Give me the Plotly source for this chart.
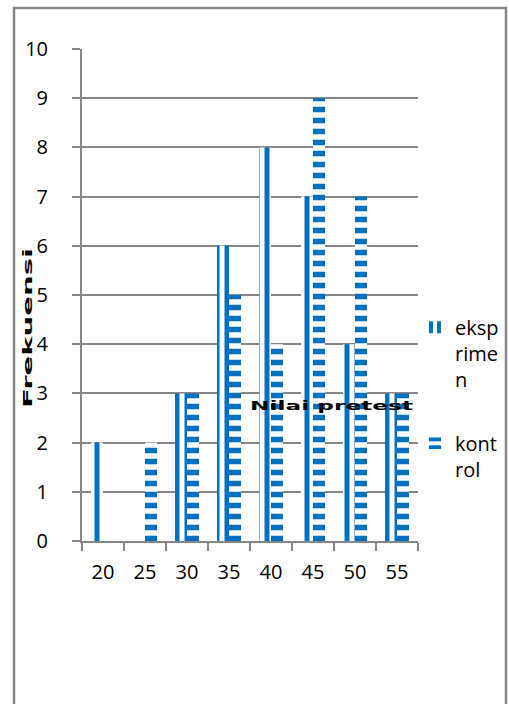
import plotly.graph_objects as go

categories = ["20", "25", "30", "35", "40", "45", "50", "55"]
eksprimen = [2, 0, 3, 6, 8, 7, 4, 3]
kontrol = [0, 2, 3, 5, 4, 9, 7, 3]
y_ticks = list(range(0, 11))

BLUE = "#0070C0"
GRID = "#878787"
FONT = "Open Sans"

fig = go.Figure()
fig.add_trace(go.Bar(
    x=categories, y=eksprimen, name="eksp<br>rime<br>n",
    legendgroup="a",
    marker=dict(color=BLUE, line=dict(width=0),
                pattern=dict(shape="|", fgcolor=BLUE, bgcolor="white",
                             fgopacity=1, size=10, solidity=0.5)),
))
fig.add_trace(go.Bar(
    x=categories, y=kontrol, name="kont<br>rol",
    legendgroup="b",
    marker=dict(color=BLUE, line=dict(width=0),
                pattern=dict(shape="-", fgcolor=BLUE, bgcolor="white",
                             fgopacity=1, size=11, solidity=0.5)),
))

fig.update_layout(
    width=509, height=704,
    margin=dict(l=82, r=91, t=49, b=163, pad=0, autoexpand=False),
    paper_bgcolor="white", plot_bgcolor="white",
    barmode="group", bargap=0.43, bargroupgap=0,
    font=dict(family=FONT, size=20, color="black"),
    showlegend=True,
    legend=dict(x=0.991, y=0.474, xanchor="left", yanchor="top",
                valign="top", traceorder="grouped", tracegroupgap=35,
                itemwidth=30, font=dict(size=20, family=FONT),
                bgcolor="rgba(0,0,0,0)"),
    xaxis=dict(
        type="category", showgrid=False, showline=True, linecolor=GRID,
        linewidth=2, ticks="outside", tickson="boundaries", ticklen=8,
        tickcolor=GRID, tickwidth=2, ticklabelstandoff=12,
        tickfont=dict(size=20, family=FONT), automargin=False,
    ),
    yaxis=dict(
        range=[0, 10], tickvals=y_ticks, showgrid=True, gridcolor=GRID,
        gridwidth=2, showline=True, linecolor=GRID, linewidth=2,
        ticks="outside", ticklen=8, tickcolor=GRID, tickwidth=2,
        ticklabelstandoff=20, zeroline=False, automargin=False,
        tickfont=dict(size=20, family=FONT),
    ),
)

# outer chart border
fig.add_shape(type="rect", xref="paper", yref="paper",
              x0=-0.2024, x1=1.2619, y0=-0.37, y1=1.0833,
              line=dict(color=GRID, width=2.5), fillcolor="rgba(0,0,0,0)",
              layer="below")

fig.add_annotation(
    text="Frekuensi",
    xref="paper", yref="paper", x=-0.19, y=0.433, textangle=-90,
    showarrow=False, font=dict(family="DejaVu Sans", size=13, color="black", weight="bold"),
)
fig.add_annotation(
    text="Nilai pretest",
    xref="paper", yref="paper", x=0.884, y=0.256,
    showarrow=False, font=dict(family="DejaVu Sans", size=13, color="black", weight="bold"),
)

# stretch the two bold labels horizontally like the original (wide glyphs)
post = """
document.body.style.margin='0px';
var lens = {'Frekuensi': 160, 'Nilai pretest': 163};
document.querySelectorAll('.annotation-text').forEach(function(el){
  var s = el.textContent;
  if (lens[s]) {
    el.setAttribute('textLength', lens[s]);
    el.setAttribute('lengthAdjust', 'spacingAndGlyphs');
  }
});
"""

fig.write_html("out.html", config={"displayModeBar": False}, post_script=post)
